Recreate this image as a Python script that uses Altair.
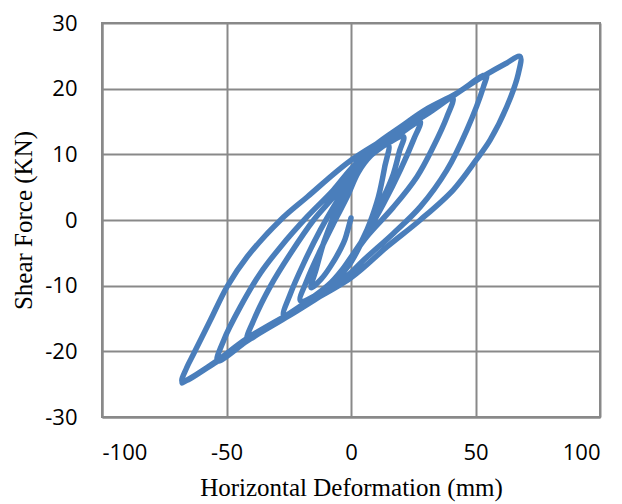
import altair as alt
import pandas as pd

# Hysteresis path: (deformation mm, shear force kN)
start_path = [(0, 0.3), (-1.5, -1.8), (-3, -3.5), (-8.3, -7.1), (-12, -9), (-16, -10.3)]

reload_1 = [(-16, -10.3), (-14, -7.5), (-11, -3.5), (-7, 0.5), (-3, 4), (1, 7.2), (6, 9.6), (10.5, 10.8), (15, 11.5)]
unload_1 = [(15, 11.5), (13.5, 8), (11, 3.5), (7.5, -0.5), (3.5, -4), (-1, -7), (-7, -9.5), (-13, -11.2), (-20.3, -12.3)]

reload_2 = [(-20.3, -12.3), (-17.6, -9.1), (-12.3, -4.6), (-7, -0.5), (-1.6, 3.5), (3, 7.3), (8, 9.8), (14, 11.5), (21.1, 12.7)]
unload_2 = [(21.1, 12.7), (19.5, 10.5), (17, 7), (13.1, 3.5), (7.7, -0.5), (2.4, -4.6), (-3, -7.8), (-10, -10.5), (-18, -12.8), (-27, -14.6)]

reload_3 = [(-27, -14.6), (-24.3, -11.2), (-19, -6.6), (-12.3, -1.5), (-7, 2), (0, 6.1), (5, 8.8), (12, 11), (20, 13.2), (27.8, 15)]
unload_3 = [(27.8, 15), (25.1, 12.2), (19.8, 7.6), (13.1, 2.5), (6.4, -2), (1, -5.1), (-5, -8.3), (-12, -11), (-22, -13.6), (-32, -16), (-41.7, -18.2)]

reload_4 = [(-41.7, -18.2), (-39, -15.2), (-32.4, -10.1), (-24.3, -5.1), (-15, 0), (-7, 3.5), (0, 6.8), (7, 9.5), (15, 12.2), (24, 14.6), (32, 16.6), (40.9, 18.6)]
unload_4 = [(40.9, 18.6), (38.5, 15.7), (33.1, 11.2), (26.5, 6.6), (17.1, 2), (6.4, -2.5), (0, -5.8), (-8, -9.5), (-20, -13), (-30, -15.5), (-42, -18.5), (-53.7, -21.5)]

reload_5 = [(-53.7, -21.5), (-51.1, -18.3), (-44.4, -13.2), (-36.4, -8.1), (-28.3, -4.1), (-17.6, 0.5), (-7, 4.6), (0, 7.8), (10, 11.5), (20, 14.2), (30, 16.8), (42, 19.2), (54.3, 22.1)]
unload_5 = [(54.3, 22.1), (53.2, 20.3), (46.5, 13.7), (38.5, 7.6), (27.8, 2), (17.1, -2), (5.1, -6.1), (0, -8), (-10, -11), (-25, -14.6), (-40, -18), (-54, -21.6), (-67.8, -24.6)]

reload_6 = [(-67.8, -24.6), (-66, -22.5), (-63.1, -20.3), (-56.4, -15.2), (-49.7, -10.1), (-41.7, -5.6), (-28.3, 0), (-17.6, 3.5), (0, 9.1), (19.7, 13.7), (30, 16), (41, 18.9), (53.2, 21.9), (62, 23.8), (67.9, 24.9)]
unload_6 = [(67.9, 24.9), (67.2, 22.3), (62.5, 17.2), (55.9, 12.2), (50.2, 9.1), (41.1, 4.6), (27.8, 0), (14.4, -4.1), (0, -8.8), (-20.3, -13.3), (-41.7, -18), (-53.7, -21.4), (-62, -23.5), (-67.8, -24.8)]

x_ticks = [-100, -50, 0, 50, 100]
y_ticks = [-30, -20, -10, 0, 10, 20, 30]

branches = [start_path, reload_1, unload_1, reload_2, unload_2, reload_3, unload_3,
            reload_4, unload_4, reload_5, unload_5, reload_6, unload_6]
rows = []
for b in branches:
    pts = b if not rows else b[1:]
    for (x, y) in pts:
        rows.append({"x": x, "y": y, "i": len(rows)})
df = pd.DataFrame(rows)

tick_font = "Open Sans"
title_font = "Liberation Serif"
grid_col = "#898989"

chart = alt.Chart(df).mark_line(
    interpolate="catmull-rom", color="#4a7ebb", strokeWidth=5.5,
    strokeJoin="round", strokeCap="round"
).encode(
    x=alt.X("x:Q", scale=alt.Scale(domain=[-100, 100], nice=False),
            axis=alt.Axis(values=x_ticks, title="Horizontal Deformation (mm)",
                          labelExpr="'' + datum.value",
                          grid=True, ticks=False, labelPadding=25,
                          labelFontSize=22, labelFont=tick_font, labelColor="#000",
                          titleFont=title_font, titleFontSize=25, titleFontWeight="normal",
                          titleColor="#000", titlePadding=12,
                          domainColor=grid_col, domainWidth=2)),
    y=alt.Y("y:Q", scale=alt.Scale(domain=[-30, 30], nice=False),
            axis=alt.Axis(values=y_ticks, title="Shear Force (KN)",
                          labelExpr="'' + datum.value",
                          grid=True, ticks=False, labelPadding=25,
                          labelFontSize=22, labelFont=tick_font, labelColor="#000",
                          titleFont=title_font, titleFontSize=25, titleFontWeight="normal",
                          titleColor="#000", titlePadding=8,
                          domainColor=grid_col, domainWidth=2)),
    order="i:Q",
).properties(
    width=498, height=394,
    autosize=alt.AutoSizeParams(type="none"),
    padding={"left": 94, "top": 15, "right": 10, "bottom": 85},
).configure_axis(
    gridColor=grid_col, gridWidth=2, gridOpacity=1
).configure_view(
    stroke=grid_col, strokeWidth=2
)

chart.save("out.html", embed_options={"renderer": "svg", "actions": False})
